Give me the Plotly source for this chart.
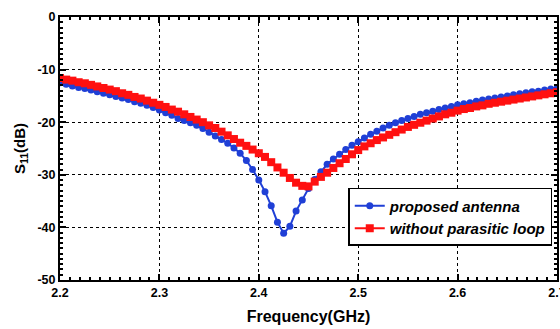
import plotly.graph_objects as go

# Frequency sweep (GHz), 6.25 MHz step
freq = [round(2.2 + 0.00625 * i, 5) for i in range(81)]

# Measured S11 (dB) of the proposed antenna
s11_proposed = [
    -12.5, -12.8, -13.1, -13.4, -13.6, -13.9, -14.2, -14.5, -14.8, -15.1,
    -15.4, -15.7, -16.1, -16.4, -16.8, -17.2, -17.7, -18.2, -18.7, -19.3,
    -19.7, -20.1, -20.6, -21.2, -21.9, -22.6, -23.3, -24.0, -24.9, -25.9,
    -27.3, -29.0, -31.0, -33.2, -35.9, -39.0, -41.1, -39.8, -36.9, -34.8,
    -32.6, -30.9, -29.4, -28.0, -27.0, -26.1, -25.2, -24.4, -23.7, -23.0,
    -22.3, -21.7, -21.1, -20.6, -20.1, -19.7, -19.3, -18.9, -18.5, -18.2,
    -17.9, -17.6, -17.3, -17.0, -16.7, -16.5, -16.3, -16.0, -15.8, -15.6,
    -15.4, -15.2, -15.0, -14.8, -14.6, -14.4, -14.2, -14.1, -13.9, -13.7,
    -13.6,
]

# S11 (dB) of the antenna without the parasitic loop
s11_no_loop = [
    -11.6, -11.9, -12.1, -12.4, -12.6, -12.9, -13.2, -13.5, -13.8, -14.1,
    -14.5, -14.8, -15.2, -15.5, -15.9, -16.3, -16.7, -17.1, -17.6, -18.0,
    -18.5, -19.0, -19.5, -20.0, -20.6, -21.1, -21.8, -22.5, -23.2, -23.9,
    -24.5, -25.2, -25.9, -26.6, -27.6, -28.6, -29.6, -30.6, -31.5, -32.1,
    -32.2, -31.3, -30.4, -29.6, -28.7, -27.8, -27.0, -26.1, -25.3, -24.6,
    -24.0, -23.4, -22.9, -22.4, -21.9, -21.4, -20.9, -20.5, -20.1, -19.7,
    -19.3, -18.9, -18.5, -18.2, -17.8, -17.5, -17.3, -17.0, -16.8, -16.5,
    -16.3, -16.1, -15.9, -15.7, -15.5, -15.3, -15.1, -14.9, -14.7, -14.5,
    -14.3,
]

x_ticks = [2.2, 2.3, 2.4, 2.5, 2.6, 2.7]
y_ticks = [0, -10, -20, -30, -40, -50]

FONT = "Liberation Sans, Arial, sans-serif"

fig = go.Figure()
fig.add_trace(go.Scatter(
    x=freq, y=s11_proposed, mode="lines+markers",
    name="<b><i>proposed antenna</i></b>",
    line=dict(color="#1f3fd6", width=2),
    marker=dict(symbol="circle", size=7, color="#1f3fd6"),
))
fig.add_trace(go.Scatter(
    x=freq, y=s11_no_loop, mode="lines+markers",
    name="<b><i>without parasitic loop</i></b>",
    line=dict(color="#ff1010", width=2),
    marker=dict(symbol="square", size=8, color="#ff1010"),
))

axis_common = dict(
    showline=True, linecolor="black", linewidth=2, mirror="allticks",
    ticks="inside", ticklen=6, tickwidth=2, tickcolor="black",
    showgrid=True, gridcolor="black", gridwidth=1, griddash="dot",
    zeroline=False, ticklabeloverflow="allow", automargin=False,
    tickfont=dict(family=FONT, size=12.5, color="black", weight="bold"),
)

fig.update_xaxes(
    range=[2.2, 2.7], tickvals=x_ticks, ticktext=[f"{v:.1f}" for v in x_ticks],
    minor=dict(dtick=0.01, ticks="inside", ticklen=3, tickwidth=1.5,
               tickcolor="black", showgrid=False),
    title=dict(text="<b>Frequency(GHz)</b>", font=dict(family=FONT, size=16, color="black"),
               standoff=12),
    **axis_common,
)
fig.update_yaxes(
    range=[-50, 0], tickvals=y_ticks, ticktext=[str(v) for v in y_ticks],
    minor=dict(dtick=1, ticks="inside", ticklen=3, tickwidth=1.5,
               tickcolor="black", showgrid=False),
    title=dict(text="<b>S<sub>11</sub>(dB)</b>", font=dict(family=FONT, size=15, color="black"),
               standoff=8),
    **axis_common,
)

fig.update_layout(
    width=560, height=329,
    margin=dict(l=60, r=3, t=17, b=49),
    paper_bgcolor="white", plot_bgcolor="white",
    showlegend=True,
    legend=dict(
        x=0.58, y=0.35, xanchor="left", yanchor="top",
        bgcolor="white", bordercolor="black", borderwidth=1.5,
        font=dict(family=FONT, size=15, color="black"),
        tracegroupgap=0, itemwidth=30,
    ),
)

fig.write_html("out.html")
